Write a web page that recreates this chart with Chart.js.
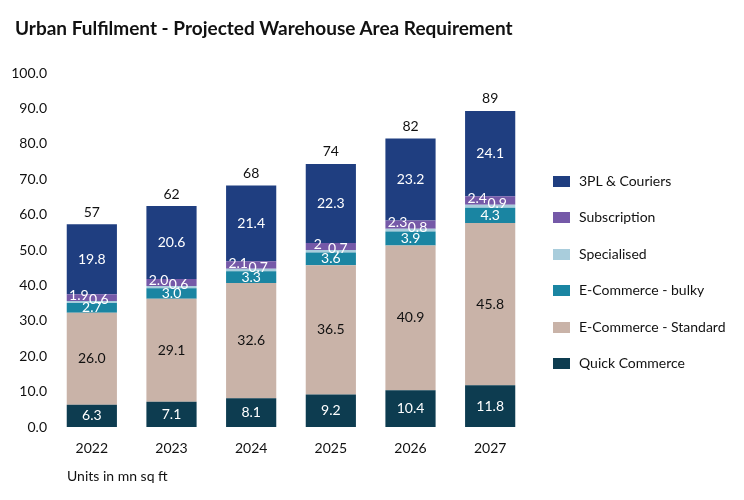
<!DOCTYPE html>
<html>
<head>
<meta charset="utf-8">
<script src="https://cdn.jsdelivr.net/npm/chart.js@4.4.1/dist/chart.umd.min.js"></script>
<style>
  html, body { margin: 0; padding: 0; background: #fff; }
  #wrap { position: relative; width: 744px; height: 500px; font-family: Lato, "Noto Sans", sans-serif; color: #111; }
  #title { position: absolute; left: 15px; top: 16px; font-size: 19px; font-weight: bold; white-space: nowrap; }
  #units { position: absolute; left: 67px; top: 467px; font-size: 14px; white-space: nowrap; }
  #chartBox { position: absolute; left: 0; top: 0; width: 744px; height: 500px; }
  #legend { position: absolute; left: 553px; top: 172px; }
  .li { height: 36.4px; display: flex; align-items: flex-start; font-size: 14px; white-space: nowrap; }
  .sw { width: 17px; height: 11px; margin-right: 9px; margin-top: 4px; }
</style>
</head>
<body>
<div id="wrap">
  <div id="chartBox"><canvas id="c" width="744" height="500"></canvas></div>
  <div id="title">Urban Fulfilment - Projected Warehouse Area Requirement</div>
  <div id="units">Units in mn sq ft</div>
  <div id="legend"></div>
</div>
<script>
const years = ["2022", "2023", "2024", "2025", "2026", "2027"];
const quickCommerce = [6.3, 7.1, 8.1, 9.2, 10.4, 11.8];
const ecomStandard = [26.0, 29.1, 32.6, 36.5, 40.9, 45.8];
const ecomBulky = [2.7, 3.0, 3.3, 3.6, 3.9, 4.3];
const specialised = [0.6, 0.6, 0.7, 0.7, 0.8, 0.9];
const subscription = [1.9, 2.0, 2.1, 2, 2.3, 2.4];
const subscriptionText = ["1.9", "2.0", "2.1", "2", "2.3", "2.4"];
const couriers3PL = [19.8, 20.6, 21.4, 22.3, 23.2, 24.1];
const totals = [57, 62, 68, 74, 82, 89];
const yTicks = [0, 10, 20, 30, 40, 50, 60, 70, 80, 90, 100];

const seriesNames = ["Quick Commerce", "E-Commerce - Standard", "E-Commerce - bulky", "Specialised", "Subscription", "3PL & Couriers"];
const seriesColors = ["#0D3C50", "#C9B3A8", "#1A85A2", "#A9CDDC", "#7559A8", "#1F3E80"];
const labelColors = ["#fff", "#111", "#fff", "#fff", "#fff", "#fff"];
const labelDx = [0, 0, 0, 7, -13, 0];
const labelDy = [0, 0, 0, -3, -2, 0];
const seriesData = [quickCommerce, ecomStandard, ecomBulky, specialised, subscription, couriers3PL];

const FONT = 'Lato, "Noto Sans", sans-serif';

const labelPlugin = {
  id: 'segLabels',
  afterDatasetsDraw(chart) {
    const ctx = chart.ctx;
    ctx.save();
    ctx.font = '14px ' + FONT;
    ctx.textAlign = 'center';
    ctx.textBaseline = 'middle';
    chart.data.datasets.forEach((ds, di) => {
      const meta = chart.getDatasetMeta(di);
      meta.data.forEach((bar, i) => {
        const txt = di === 4 ? subscriptionText[i] : ds.data[i].toFixed(1);
        const cy = (bar.y + bar.base) / 2;
        ctx.fillStyle = labelColors[di];
        ctx.fillText(txt, bar.x + labelDx[di], cy + labelDy[di]);
      });
    });
    const top = chart.getDatasetMeta(chart.data.datasets.length - 1);
    ctx.fillStyle = '#111';
    top.data.forEach((bar, i) => {
      ctx.fillText(String(totals[i]), bar.x, bar.y - 12);
    });
    ctx.restore();
  }
};

new Chart(document.getElementById('c'), {
  type: 'bar',
  data: {
    labels: years,
    datasets: seriesData.map((d, i) => ({
      label: seriesNames[i],
      data: d,
      backgroundColor: seriesColors[i],
      borderWidth: 0,
      barPercentage: 0.63,
      categoryPercentage: 1.0
    }))
  },
  options: {
    responsive: false,
    animation: false,
    devicePixelRatio: 1,
    layout: { padding: { top: 73, right: 214, bottom: 33, left: 0 } },
    plugins: { legend: { display: false }, title: { display: false }, tooltip: { enabled: false } },
    scales: {
      x: {
        stacked: true,
        grid: { display: false, drawTicks: false },
        border: { display: false },
        ticks: { color: '#111', font: { family: FONT, size: 14 }, padding: 13 },
        afterFit(s) { s.height = 40; }
      },
      y: {
        stacked: true,
        min: 0, max: 100,
        afterBuildTicks(s) { s.ticks = yTicks.map(v => ({ value: v })); },
        grid: { display: false, drawTicks: false },
        border: { display: false },
        ticks: { color: '#111', font: { family: FONT, size: 14 }, padding: 5, callback: v => Number(v).toFixed(1) },
        afterFit(s) { s.width = 52; }
      }
    }
  },
  plugins: [labelPlugin]
});

const legend = document.getElementById('legend');
for (let i = seriesNames.length - 1; i >= 0; i--) {
  const row = document.createElement('div');
  row.className = 'li';
  const sw = document.createElement('div');
  sw.className = 'sw';
  sw.style.background = seriesColors[i];
  const t = document.createElement('span');
  t.textContent = seriesNames[i];
  row.appendChild(sw);
  row.appendChild(t);
  legend.appendChild(row);
}
</script>
</body>
</html>
